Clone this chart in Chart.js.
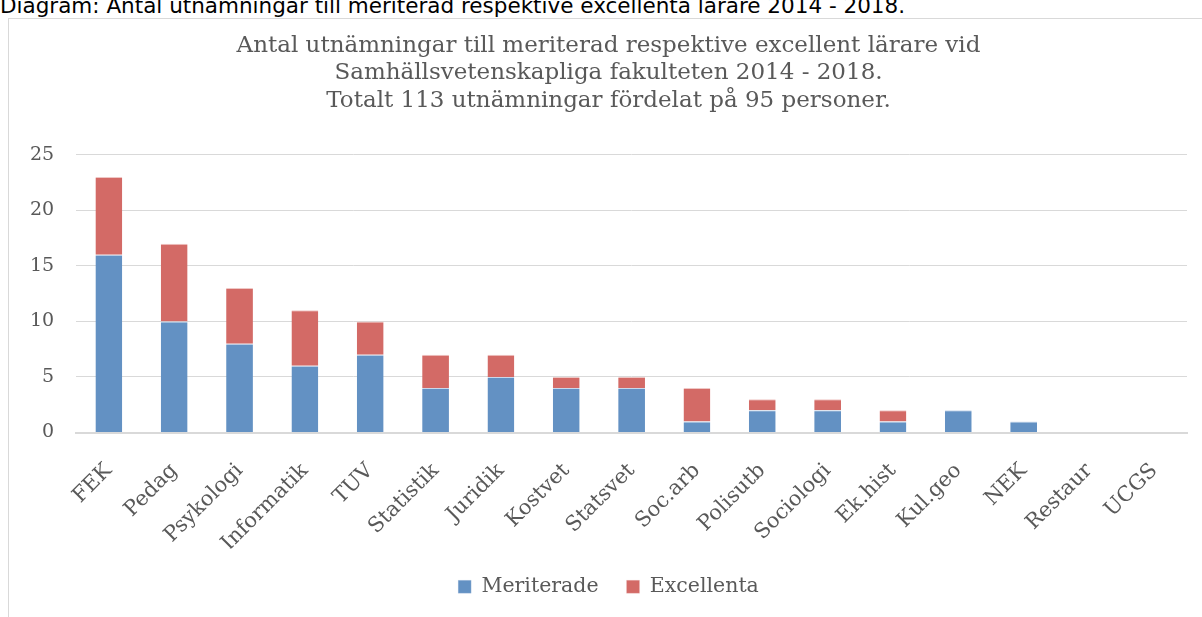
<!DOCTYPE html>
<html lang="sv">
<head>
<meta charset="utf-8">
<script src="https://cdn.jsdelivr.net/npm/chart.js@4/dist/chart.umd.min.js"></script>
<style>
  html, body { margin: 0; padding: 0; background: #fff; overflow: hidden; }
  #caption {
    position: absolute; left: 0; top: -7px;
    font-family: "DejaVu Sans", Verdana, sans-serif; font-size: 21.5px; color: #000;
    white-space: nowrap;
  }
  #frame {
    position: absolute; left: 8px; top: 18px; width: 1210px; height: 620px;
    border: 1px solid #d9d9d9; box-sizing: border-box;
  }
  #box { position: absolute; left: 1px; top: 1px; width: 1193px; height: 598px; }
</style>
</head>
<body>
<div id="caption">Diagram: Antal utnämningar till meriterad respektive excellenta lärare 2014 - 2018.</div>
<div id="frame"><div id="box"><canvas id="chart"></canvas></div></div>
<script>
// Kategorier (institutioner) och antal utnämningar
const institutioner = ['FEK', 'Pedag', 'Psykologi', 'Informatik', 'TUV', 'Statistik', 'Juridik',
  'Kostvet', 'Statsvet', 'Soc.arb', 'Polisutb', 'Sociologi', 'Ek.hist', 'Kul.geo', 'NEK', 'Restaur', 'UCGS'];
const meriterade = [16, 10, 8, 6, 7, 4, 5, 4, 4, 1, 2, 2, 1, 2, 1, 0, 0];
const excellenta = [7, 7, 5, 5, 3, 3, 2, 1, 1, 3, 1, 1, 1, 0, 0, 0, 0];
const titelRader = [
  'Antal utnämningar till meriterad respektive excellent lärare vid',
  'Samhällsvetenskapliga fakulteten 2014 - 2018.',
  'Totalt 113 utnämningar fördelat på 95 personer.'
];

const SERIF = '"DejaVu Serif", Georgia, serif';
const TEXT = '#595959';
const GRID = '#d9d9d9';

new Chart(document.getElementById('chart'), {
  type: 'bar',
  data: {
    labels: institutioner,
    datasets: [
      { label: 'Meriterade', data: meriterade, backgroundColor: '#6391c3', borderColor: '#c9d8ec', borderWidth: { top: 1 } },
      { label: 'Excellenta', data: excellenta, backgroundColor: '#d36a66', borderColor: '#efc7c5', borderWidth: { top: 1 } }
    ]
  },
  options: {
    responsive: true,
    maintainAspectRatio: false,
    animation: false,
    datasets: { bar: { categoryPercentage: 1, barPercentage: 0.41 } },
    layout: { padding: { left: 20, right: 16, top: 12, bottom: 11 } },
    plugins: {
      title: {
        display: true,
        text: titelRader,
        color: TEXT,
        font: { family: SERIF, size: 23, weight: 'normal', lineHeight: 1.2 },
        padding: { top: 0, bottom: 40 }
      },
      legend: {
        position: 'bottom',
        labels: {
          color: TEXT,
          font: { family: SERIF, size: 20.5 },
          boxWidth: 13, boxHeight: 13,
          padding: 28
        }
      },
      tooltip: { enabled: false }
    },
    scales: {
      x: {
        stacked: true,
        grid: { display: false, drawTicks: false },
        border: { color: GRID, width: 2 },
        // fast höjd på axeln
        afterFit: s => { s.height = 116; },
        ticks: {
          color: TEXT, font: { family: SERIF, size: 21 },
          maxRotation: 45, minRotation: 45, padding: 26
        }
      },
      y: {
        stacked: true,
        min: 0, max: 25,
        grid: { color: GRID, lineWidth: 1, drawTicks: false },
        border: { display: false },
        // Chart.js räknar padding dubbelt i bredden, ta bort den vänstra delen
        afterFit: s => { s.width -= 22; },
        ticks: {
          stepSize: 5, color: TEXT, font: { family: SERIF, size: 19 }, padding: 22
        }
      }
    }
  }
});
</script>
</body>
</html>
